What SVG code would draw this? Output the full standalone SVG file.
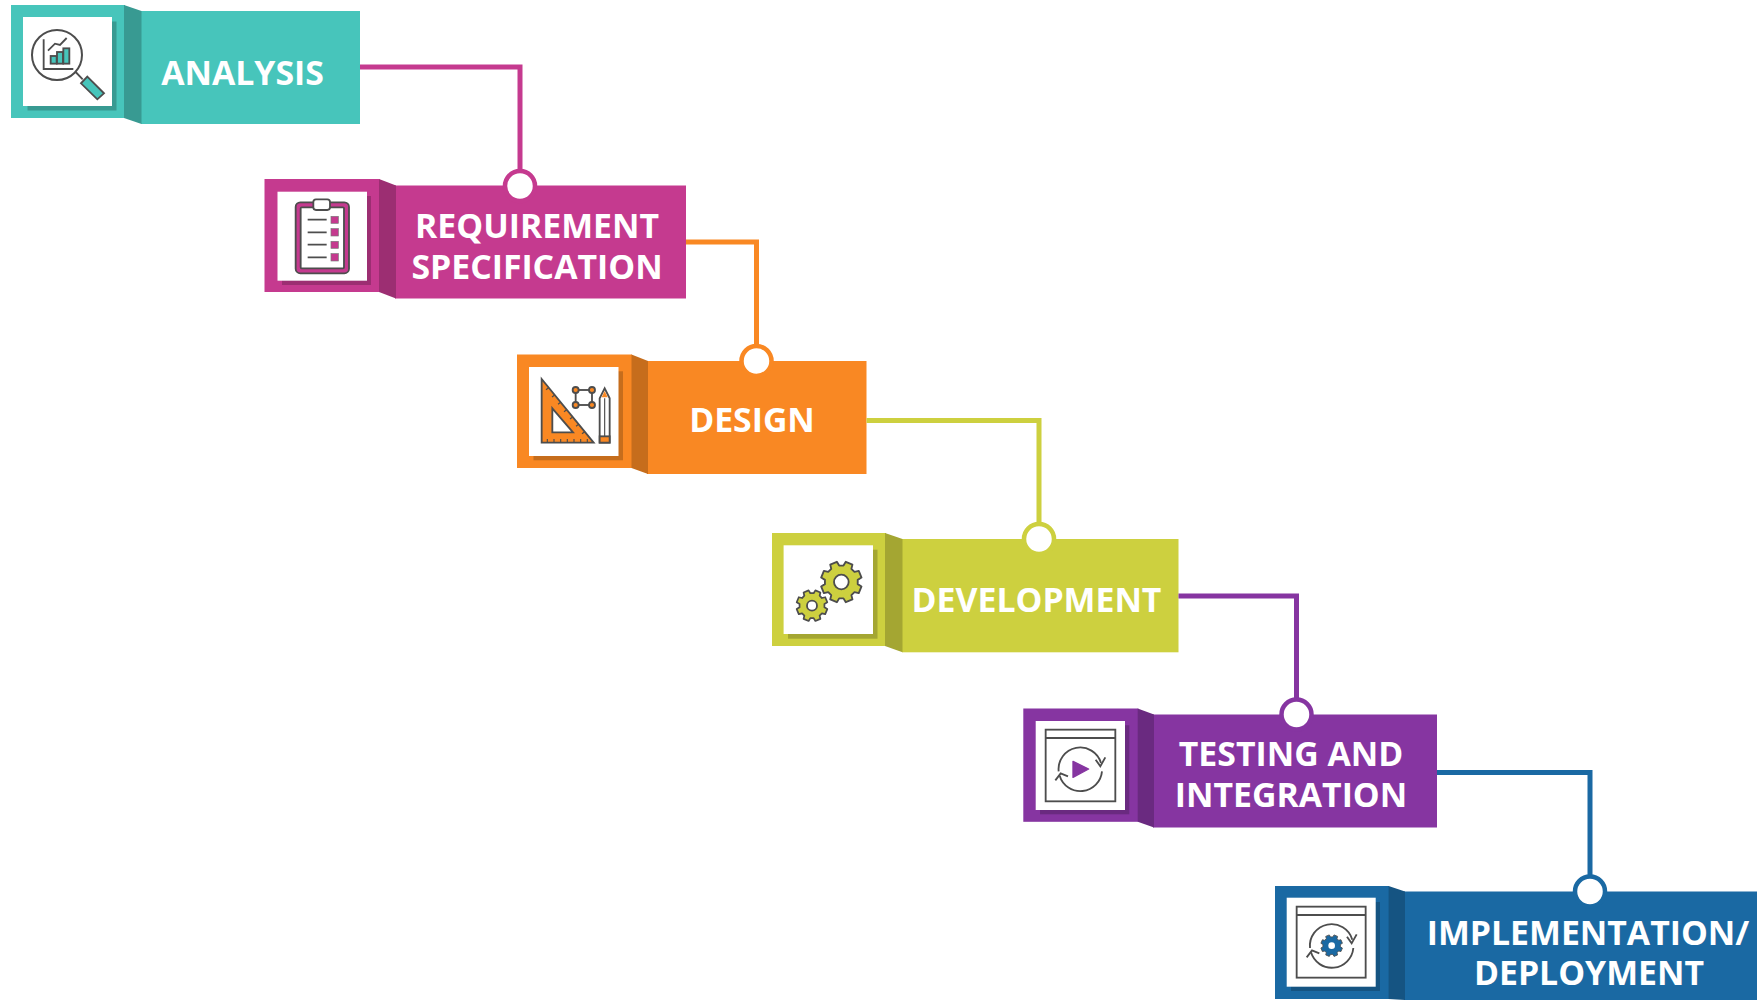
<svg xmlns="http://www.w3.org/2000/svg" width="1757" height="1000" viewBox="0 0 1757 1000">
<style>
.label{font-family:"Open Sans","Liberation Sans",sans-serif;font-weight:700;font-size:33.8px;fill:#fff;text-anchor:middle}
.wire{fill:none;stroke-width:5}
.dot{fill:#fff;stroke-width:4.5}
.card{fill:#fff}
.ln{fill:none;stroke:#4d4d4d;stroke-width:5.5}
.ic{stroke:#4d4d4d;stroke-width:5.5}
.wh{fill:#fff;stroke:#4d4d4d;stroke-width:5.5}
</style>
<defs>
<polygon id="gear" points="77.3,-20.7 98.5,-17.4 98.5,17.4 77.3,20.7 69.3,40 82,57.4 57.4,82 40,69.3 20.7,77.3 17.4,98.5 -17.4,98.5 -20.7,77.3 -40,69.3 -57.4,82 -82,57.4 -69.3,40 -77.3,20.7 -98.5,17.4 -98.5,-17.4 -77.3,-20.7 -69.3,-40 -82,-57.4 -57.4,-82 -40,-69.3 -20.7,-77.3 -17.4,-98.5 17.4,-98.5 20.7,-77.3 40,-69.3 57.4,-82 82,-57.4 69.3,-40"/>
</defs>
<rect width="1757" height="1000" fill="#fff"/>

<g id="node-analysis">
<rect x="11" y="5" width="114" height="113" fill="#47C5BB"/>
<rect x="141" y="11" width="219" height="113" fill="#47C5BB"/>
<polygon points="124,5 141.5,11 141.5,124 124,118" fill="#389A92"/>
<rect x="27.5" y="21.5" width="89" height="89" fill="#389A92"/>
<rect class="card" x="23" y="17" width="89" height="89"/>
<g transform="translate(10,0) scale(.3333)">
<circle cx="141" cy="165" r="75" fill="#fff" stroke="#4d4d4d" stroke-width="6"/>
<polyline class="ln" points="101,118 101,207 190,207"/>
<polyline class="ln" points="114,152 135,131 150,135 170,114"/>
<rect class="ic" x="122" y="168" width="18" height="23" fill="#47C5BB"/>
<rect class="ic" x="141" y="156" width="18" height="35" fill="#47C5BB"/>
<rect class="ic" x="160" y="145" width="18" height="46" fill="#47C5BB"/>
<line class="ln" x1="197" y1="216" x2="218" y2="238"/>
<polygon class="ic" points="232,230 282,280 262,298 213,250" fill="#47C5BB"/>
</g>
<text class="label" x="242.5" y="84.5">ANALYSIS</text>
</g>

<g id="node-requirement">
<rect x="264.5" y="179" width="115" height="113" fill="#C53A8F"/>
<rect x="395" y="185.5" width="291" height="113" fill="#C53A8F"/>
<polygon points="379,179 396,185.5 396,298.5 379,292" fill="#9C2E72"/>
<rect x="282" y="196" width="89" height="89" fill="#9C2E72"/>
<rect class="card" x="277.5" y="191.7" width="89.5" height="89"/>
<g transform="translate(265,180) scale(.3333)">
<rect class="ic" x="92" y="67" width="160" height="213" rx="14" fill="#C53A8F"/>
<rect class="wh" x="107" y="82" width="130" height="183" rx="3"/>
<rect class="wh" x="145" y="58" width="50" height="32" rx="8"/>
<path class="ln" d="M128 119H185M128 157H185M128 194H185M128 232H185"/>
<g fill="#C53A8F" stroke="#777" stroke-width="2">
<rect x="198" y="109" width="22" height="21"/>
<rect x="198" y="146" width="22" height="22"/>
<rect x="198" y="184" width="22" height="21"/>
<rect x="198" y="221" width="22" height="22"/>
</g>
</g>
<text class="label"><tspan x="537" y="238">REQUIREMENT</tspan><tspan x="537" y="279">SPECIFICATION</tspan></text>
</g>

<g id="node-design">
<rect x="517" y="354.5" width="115" height="113.5" fill="#F98823"/>
<rect x="647" y="361" width="219.5" height="113" fill="#F98823"/>
<polygon points="631.5,354.5 648,361 648,474 631.5,468" fill="#C66D1C"/>
<rect x="533.5" y="371.3" width="89.5" height="89" fill="#C66D1C"/>
<rect class="card" x="529" y="367" width="89.5" height="89"/>
<g transform="translate(518,355) scale(.3333)">
<polygon class="ic" points="71,72 227,263 71,263" fill="#F98823"/>
<polygon class="wh" points="103,160 165,232 103,232"/>
<path d="M88,252V263M108,252V263M128,252V263M148,252V263M168,252V263M188,252V263M208,252V263M92,98L84,104M110,120L102,126M128,142L120,148M146,164L138,170M164,186L156,192M182,208L174,214M200,230L192,236" stroke="#4d4d4d" stroke-width="3.5" fill="none"/>
<rect class="ln" x="173" y="105" width="49" height="45"/>
<g class="ic" fill="#F98823"><circle cx="173" cy="105" r="9"/><circle cx="222" cy="105" r="9"/><circle cx="173" cy="150" r="9"/><circle cx="222" cy="150" r="9"/></g>
<polygon class="wh" points="245,130 260,100 275,130 275,263 245,263"/>
<polygon points="260,108 269,127 251,127" fill="#F98823"/>
<line x1="260" y1="130" x2="260" y2="244" stroke="#4d4d4d" stroke-width="3.5"/>
<rect class="ic" x="245" y="244" width="30" height="19" fill="#F98823"/>
</g>
<text class="label" x="752" y="431.5">DESIGN</text>
</g>

<g id="node-development">
<rect x="772" y="533" width="114" height="113" fill="#CDD03F"/>
<rect x="902" y="539" width="276.5" height="113.3" fill="#CDD03F"/>
<polygon points="885,533 902.5,539 902.5,652.3 885,646" fill="#A4A632"/>
<rect x="788" y="549.7" width="89.5" height="89" fill="#A4A632"/>
<rect class="card" x="783.6" y="545.3" width="89.4" height="88.7"/>
<g transform="translate(772,533) scale(.3333)">
<use href="#gear" transform="translate(208,147) rotate(22.5) scale(.62)" fill="#CDD03F" stroke="#4d4d4d" stroke-width="9" stroke-linejoin="round"/>
<circle class="wh" cx="208" cy="147" r="22"/>
<use href="#gear" transform="translate(120,218) rotate(22.5) scale(.47)" fill="#CDD03F" stroke="#4d4d4d" stroke-width="11" stroke-linejoin="round"/>
<circle class="wh" cx="120" cy="218" r="15"/>
</g>
<text class="label" x="1036.5" y="612">DEVELOPMENT</text>
</g>

<g id="node-testing">
<rect x="1023.3" y="708.5" width="115" height="113.3" fill="#8635A1"/>
<rect x="1153" y="714.5" width="284" height="113" fill="#8635A1"/>
<polygon points="1137.7,708.5 1154,714.5 1154,827.5 1137.7,821.8" fill="#6A2A80"/>
<rect x="1040" y="725.3" width="89.3" height="89" fill="#6A2A80"/>
<rect class="card" x="1035.7" y="721" width="89.3" height="89"/>
<g transform="translate(1023,708) scale(.3333)">
<rect class="ln" x="68" y="65" width="209" height="215"/>
<line class="ln" x1="68" y1="90" x2="277" y2="90"/>
<path class="ln" d="M107 190A65 65 0 0 1 234 165"/>
<path class="ln" d="M237 190A65 65 0 0 1 110 203"/>
<polyline class="ln" points="218,155 232,175 247,148"/>
<polyline class="ln" points="97,217 113,196 135,205"/>
<polygon points="150,160 197,183 150,208" fill="#8635A1" stroke="#8635A1" stroke-width="4" stroke-linejoin="round"/>
</g>
<text class="label"><tspan x="1291" y="765.5">TESTING AND</tspan><tspan x="1291" y="806.5">INTEGRATION</tspan></text>
</g>

<g id="node-implementation">
<rect x="1275" y="886" width="114" height="113" fill="#1A69A3"/>
<rect x="1404" y="891.5" width="353" height="108.5" fill="#1A69A3"/>
<polygon points="1388.6,886 1405,891.5 1405,1000 1388.6,999" fill="#155482"/>
<rect x="1291" y="902" width="89" height="89" fill="#155482"/>
<rect class="card" x="1286.7" y="897.7" width="89" height="89"/>
<g transform="translate(1275,885) scale(.3333)">
<rect class="ln" x="65" y="65" width="207" height="213"/>
<line class="ln" x1="65" y1="90" x2="272" y2="90"/>
<path class="ln" d="M105 189A65 65 0 0 1 232 164"/>
<path class="ln" d="M235 189A65 65 0 0 1 108 202"/>
<polyline class="ln" points="216,155 230,175 245,148"/>
<polyline class="ln" points="95,217 111,196 133,205"/>
<use href="#gear" transform="translate(170,182) rotate(22.5) scale(.33)" fill="#1A69A3" stroke="#4d4d4d" stroke-width="7" stroke-linejoin="round"/>
<circle cx="170" cy="182" r="10" fill="#fff"/>
</g>
<text class="label"><tspan x="1588" y="944.5">IMPLEMENTATION/</tspan><tspan x="1589" y="985">DEPLOYMENT</tspan></text>
</g>

<g id="connectors">
<polyline class="wire" stroke="#C53A8F" points="360,67 520,67 520,172"/>
<circle class="dot" stroke="#C53A8F" cx="520" cy="186" r="15"/>
<polyline class="wire" stroke="#F98823" points="686,242 756.5,242 756.5,348"/>
<circle class="dot" stroke="#F98823" cx="756.5" cy="361" r="15"/>
<polyline class="wire" stroke="#CDD03F" points="866.5,420.5 1039,420.5 1039,526"/>
<circle class="dot" stroke="#CDD03F" cx="1039" cy="539" r="15"/>
<polyline class="wire" stroke="#8635A1" points="1178.5,596 1296.5,596 1296.5,702"/>
<circle class="dot" stroke="#8635A1" cx="1296.5" cy="714.5" r="15"/>
<polyline class="wire" stroke="#1A69A3" points="1437,772.5 1590,772.5 1590,879"/>
<circle class="dot" stroke="#1A69A3" cx="1590" cy="891.5" r="15"/>
</g>
</svg>
